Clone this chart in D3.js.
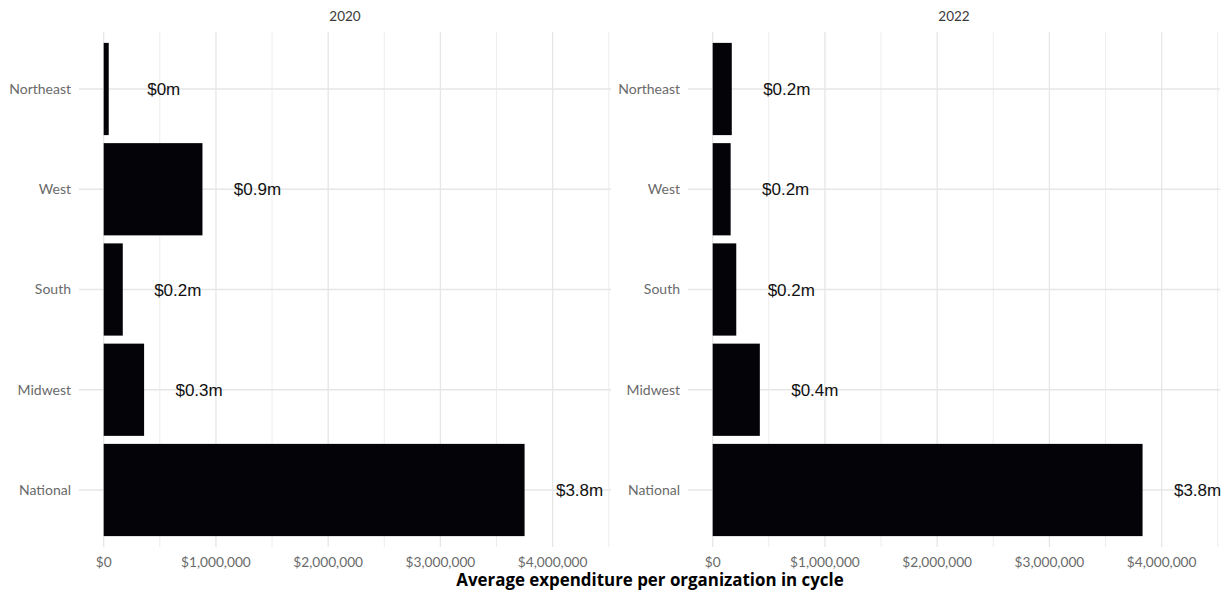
<!DOCTYPE html>
<html><head><meta charset="utf-8">
<script src="https://cdn.jsdelivr.net/npm/d3@7"></script>
<style>body{margin:0;background:#fff}svg{display:block}</style>
</head><body>
<svg id="c" width="1225" height="594"></svg>
<script>
const categories = ["Northeast","West","South","Midwest","National"];
const years = ["2020","2022"];
const values2020 = [45000, 880000, 170000, 360000, 3750000];
const values2022 = [170000, 160000, 210000, 420000, 3830000];
const labels2020 = ["$0m","$0.9m","$0.2m","$0.3m","$3.8m"];
const labels2022 = ["$0.2m","$0.2m","$0.2m","$0.4m","$3.8m"];
const xTicks = [0,1000000,2000000,3000000,4000000];
const xMinor = [500000,1500000,2500000,3500000,4500000];
const labelOffset = 490000;

const svg = d3.select("#c");
const panels = [
  {year: years[0], vals: values2020, labs: labels2020, x0: 79, x1: 611},
  {year: years[1], vals: values2022, labs: labels2022, x0: 688, x1: 1220}
];
const yTop = 32, yBot = 547;
const step = 100.25, pi = 0.08;
const po = ((yBot - yTop)/step - 5 + pi)/2;
const y = d3.scaleBand().domain(categories).range([yTop, yBot]).paddingInner(pi).paddingOuter(po);
const fmt = d => "$" + d3.format(",")(d);

panels.forEach(p => {
  const x = d3.scaleLinear().domain([-220000, 4520000]).range([p.x0, p.x1]);
  const g = svg.append("g");
  g.selectAll(".mn").data(xMinor).join("line")
    .attr("x1", d=>x(d)).attr("x2", d=>x(d)).attr("y1", yTop).attr("y2", yBot)
    .attr("stroke", "#ededed").attr("stroke-width", 1);
  g.selectAll(".mj").data(xTicks).join("line")
    .attr("x1", d=>x(d)).attr("x2", d=>x(d)).attr("y1", yTop).attr("y2", yBot)
    .attr("stroke", "#e6e6e6").attr("stroke-width", 1.3);
  g.selectAll(".hg").data(categories).join("line")
    .attr("x1", p.x0).attr("x2", p.x1)
    .attr("y1", d=>y(d)+y.bandwidth()/2).attr("y2", d=>y(d)+y.bandwidth()/2)
    .attr("stroke", "#e6e6e6").attr("stroke-width", 1.3);
  g.selectAll(".bar").data(categories).join("rect")
    .attr("x", x(0)).attr("y", d=>y(d))
    .attr("width", (d,i)=>x(p.vals[i]) - x(0))
    .attr("height", y.bandwidth())
    .attr("fill", "#040308");
  g.selectAll(".vl").data(categories).join("text")
    .attr("x", (d,i)=>x(p.vals[i] + labelOffset))
    .attr("y", d=>y(d)+y.bandwidth()/2)
    .attr("dy", "0.36em").attr("text-anchor", "middle")
    .attr("font-family", "Liberation Sans, Arial, sans-serif").attr("font-size", 17)
    .attr("fill", "#111").text((d,i)=>p.labs[i]);
  g.selectAll(".yl").data(categories).join("text")
    .attr("x", p.x0 - 8).attr("y", d=>y(d)+y.bandwidth()/2)
    .attr("dy", "0.35em").attr("text-anchor", "end")
    .attr("font-family", "Lato, sans-serif").attr("font-size", 14)
    .attr("fill", "#6a6a6a").text(d=>d);
  g.selectAll(".xl").data(xTicks).join("text")
    .attr("x", d=>x(d)).attr("y", 567).attr("text-anchor", "middle")
    .attr("font-family", "Lato, sans-serif").attr("font-size", 13.7)
    .attr("fill", "#6a6a6a").text(fmt);
  g.append("text").attr("x", (p.x0+p.x1)/2).attr("y", 21).attr("text-anchor","middle")
    .attr("font-family", "Lato, sans-serif").attr("font-size", 13.5)
    .attr("fill", "#3a3a3a").text(p.year);
});

svg.append("text").attr("x", 650).attr("y", 586).attr("text-anchor","middle")
  .attr("font-family","Open Sans, sans-serif").attr("font-weight","bold").attr("font-size",16.9)
  .attr("fill","#000").text("Average expenditure per organization in cycle");
</script>
</body></html>
